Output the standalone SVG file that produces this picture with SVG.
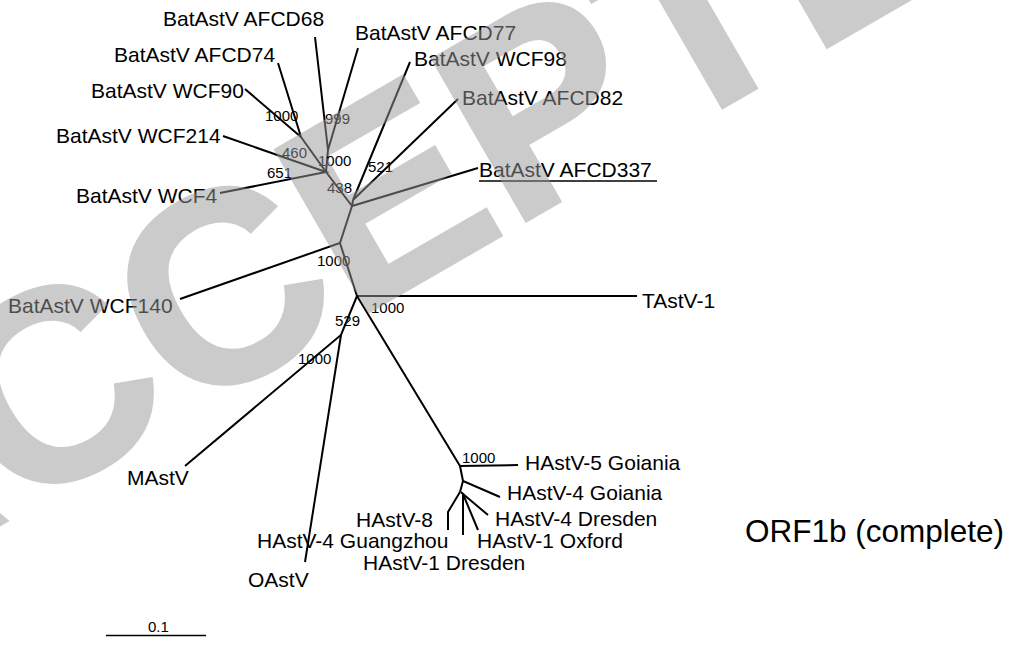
<svg xmlns="http://www.w3.org/2000/svg" width="1021" height="645" viewBox="0 0 1021 645">
<style>
.br{stroke:#000;stroke-width:2;fill:none;stroke-linecap:butt;stroke-linejoin:miter}
.lf{font-family:"Liberation Sans",Arial,Helvetica,sans-serif;font-size:21px;fill:#000}
.bs{font-family:"Liberation Sans",Arial,Helvetica,sans-serif;font-size:15px;fill:#000}
.wm{font-family:"Liberation Sans",Arial,Helvetica,sans-serif;font-size:272px;font-weight:bold;fill:#999;stroke:#999;stroke-width:3}
</style>
<rect width="1021" height="645" fill="#fff"/>
<g id="connectors" class="br">
<path d="M315,37 L328,150 L358,48"/>
<path d="M328,150 L326,172"/>
<path d="M278,63 L301,137 L245,89"/>
<path d="M301,137 L326,172"/>
<path d="M223,136 L326,172 L220,193"/>
<path d="M326,172 L352,206"/>
<path d="M410,62 L353,200 L458,99"/>
<path d="M353,200 L352,206 L478,168"/>
<path d="M352,206 L340,243 L180,299"/>
<path d="M340,243 L357,296 L637,296"/>
<path d="M357,296 L341,335 L185,466"/>
<path d="M341,335 L305,562"/>
<path d="M357,296 L460,466 L518,465"/>
<path d="M460,466 L463,481 L500,497"/>
<path d="M463,481 L460,492"/>
<path d="M460,492 L448,512 L448,530"/>
<path d="M461,492 L463,494 L463,535"/>
<path d="M463,494 L488,515"/>
<path d="M463,494 L478,530"/>
<path d="M106,635.5 L206,635.5" stroke-width="1.6"/>
</g>
<g id="leaf-AFCD68"><text class="lf" x="163" y="26">BatAstV AFCD68</text></g>
<g id="leaf-AFCD74"><text class="lf" x="114" y="62">BatAstV AFCD74</text></g>
<g id="leaf-WCF90"><text class="lf" x="91" y="98">BatAstV WCF90</text></g>
<g id="leaf-WCF214"><text class="lf" x="56" y="143">BatAstV WCF214</text></g>
<g id="leaf-WCF4"><text class="lf" x="76" y="203">BatAstV WCF4</text></g>
<g id="leaf-AFCD77"><text class="lf" x="355" y="40">BatAstV AFCD77</text></g>
<g id="leaf-WCF98"><text class="lf" x="414" y="66">BatAstV WCF98</text></g>
<g id="leaf-AFCD82"><text class="lf" x="462" y="105">BatAstV AFCD82</text></g>
<g id="leaf-AFCD337"><text class="lf" x="479" y="177">BatAstV AFCD337</text><line x1="479" y1="181" x2="657" y2="181" stroke="#000" stroke-width="1.5"/></g>
<g id="leaf-WCF140"><text class="lf" x="8" y="313">BatAstV WCF140</text></g>
<g id="leaf-TAstV1"><text class="lf" x="642" y="308">TAstV-1</text></g>
<g id="leaf-MAstV"><text class="lf" x="127" y="485">MAstV</text></g>
<g id="leaf-OAstV"><text class="lf" x="248" y="587">OAstV</text></g>
<g id="leaf-HAstV4G"><text class="lf" x="257" y="548">HAstV-4 Guangzhou</text></g>
<g id="leaf-HAstV8"><text class="lf" x="356" y="527">HAstV-8</text></g>
<g id="leaf-HAstV1D"><text class="lf" x="363" y="570">HAstV-1 Dresden</text></g>
<g id="leaf-HAstV5"><text class="lf" x="525" y="470">HAstV-5 Goiania</text></g>
<g id="leaf-HAstV4Go"><text class="lf" x="507" y="500">HAstV-4 Goiania</text></g>
<g id="leaf-HAstV4D"><text class="lf" x="495" y="526">HAstV-4 Dresden</text></g>
<g id="leaf-HAstV1O"><text class="lf" x="477" y="548">HAstV-1 Oxford</text></g>
<g id="supports">
<text class="bs" x="265" y="121">1000</text>
<text class="bs" x="325" y="124">999</text>
<text class="bs" x="282" y="158">460</text>
<text class="bs" x="318" y="166">1000</text>
<text class="bs" x="267" y="178">651</text>
<text class="bs" x="327" y="193">438</text>
<text class="bs" x="368" y="172">521</text>
<text class="bs" x="317" y="266">1000</text>
<text class="bs" x="371" y="313">1000</text>
<text class="bs" x="335" y="326">529</text>
<text class="bs" x="298" y="364">1000</text>
<text class="bs" x="462" y="463">1000</text>
</g>
<g id="scale"><text class="bs" x="148" y="632">0.1</text></g>
<g id="title"><text x="745" y="542" style="font-family:'Liberation Sans',Arial,sans-serif;font-size:31.5px;fill:#000">ORF1b (complete)</text></g>
<g id="watermark" opacity="0.5"><text class="wm" transform="translate(-157,615.5) rotate(-30)">ACCEPTED</text></g>
</svg>
